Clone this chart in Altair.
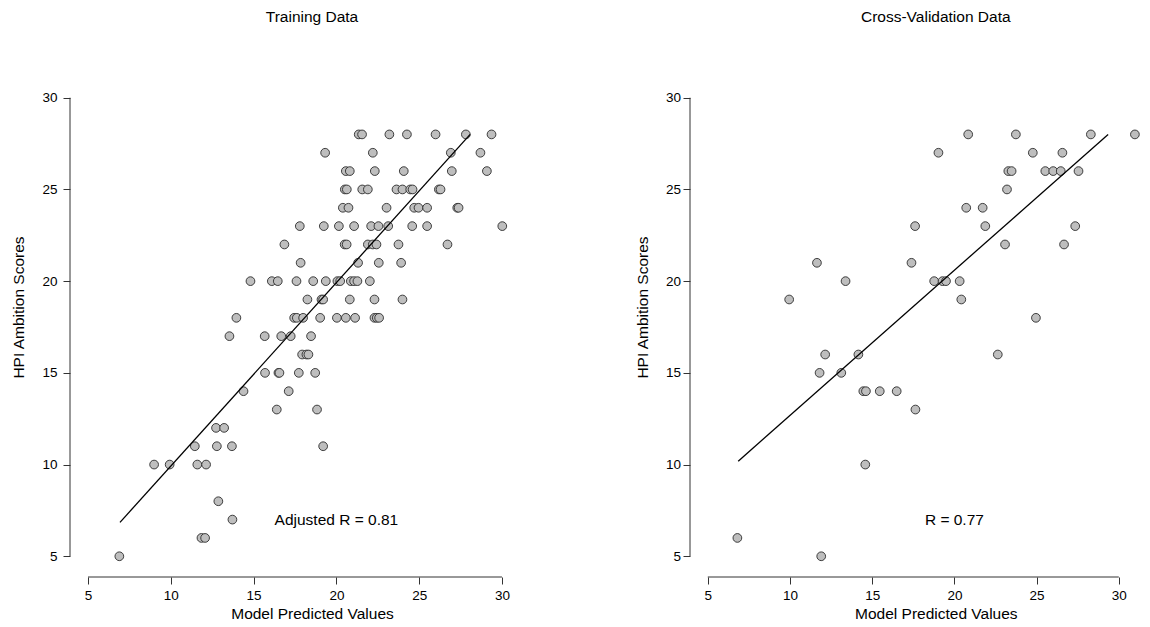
import altair as alt
import pandas as pd

FONT = "Liberation Sans"

# ---- Training data (model predicted value, HPI ambition score) ----
train_pred = [
    21.35, 21.55, 23.2, 24.26, 25.99, 27.82, 29.37,
    19.32, 22.2, 26.91, 28.7,
    20.57, 20.81, 22.32, 24.07, 26.97, 29.09,
    20.51, 20.63, 21.56, 21.9, 23.63, 23.99, 24.46, 24.6, 26.19, 26.29,
    20.39, 20.73, 23.03, 24.7, 24.96, 25.48, 27.3, 27.38,
    17.79, 19.24, 20.15, 21.07, 22.1, 22.54, 23.13, 24.58, 25.48, 30.02,
    16.86, 20.5, 20.62, 21.9, 22.2, 22.42, 23.75, 26.71,
    17.84, 21.31, 22.56, 23.91,
    14.81, 16.1, 16.46, 17.59, 18.6, 19.36, 20.06, 20.23, 20.87, 21.07, 21.27, 22.02,
    18.25, 19.1, 19.2, 20.81, 22.3, 23.99,
    13.96, 17.45, 17.61, 17.99, 19.02, 20.03, 20.57, 21.13, 22.3, 22.44, 22.58,
    13.54, 15.67, 16.67, 17.24, 18.47,
    17.93, 18.19, 18.31,
    15.69, 16.5, 16.56, 17.73, 18.72,
    14.39, 17.12,
    16.4, 18.83,
    12.73, 13.22,
    11.45, 12.78, 13.69, 19.2,
    8.99, 9.93, 11.6, 12.13,
    12.87,
    13.72,
    11.85, 12.07,
    6.89,
]
train_score = (
    [28] * 7 + [27] * 4 + [26] * 6 + [25] * 10 + [24] * 8 + [23] * 10
    + [22] * 8 + [21] * 4 + [20] * 12 + [19] * 6 + [18] * 11 + [17] * 5
    + [16] * 3 + [15] * 5 + [14] * 2 + [13] * 2 + [12] * 2 + [11] * 4
    + [10] * 4 + [8] * 1 + [7] * 1 + [6] * 2 + [5] * 1
)

# ---- Cross-validation data ----
cv_pred = [
    20.84, 23.74, 28.3, 30.98,
    19.03, 24.77, 26.57,
    23.28, 23.48, 25.53, 26.01, 26.47, 27.55,
    23.2,
    20.72, 21.72,
    17.61, 21.88, 27.35,
    23.08, 26.67,
    11.64, 17.39,
    13.38, 18.77, 19.28, 19.49, 20.32,
    9.95, 20.42,
    24.96,
    12.14, 14.16, 22.64,
    11.8, 13.12,
    14.46, 14.62, 15.46, 16.49,
    17.63,
    14.58,
    6.8,
    11.9,
]
cv_score = (
    [28] * 4 + [27] * 3 + [26] * 6 + [25] * 1 + [24] * 2 + [23] * 3
    + [22] * 2 + [21] * 2 + [20] * 5 + [19] * 2 + [18] * 1 + [16] * 3
    + [15] * 2 + [14] * 4 + [13] * 1 + [10] * 1 + [6] * 1 + [5] * 1
)

# fitted lines (end points)
train_fit_pred = [6.93, 28.08]
train_fit_score = [6.85, 28.0]
cv_fit_pred = [6.85, 29.35]
cv_fit_score = [10.18, 28.0]

axis_ticks = [5, 10, 15, 20, 25, 30]
panel_titles = ["Training Data", "Cross-Validation Data"]
stat_labels = ["Adjusted R = 0.81", "R = 0.77"]
stat_pred = [20, 20]
stat_score = [7, 7]

Y_DOMAIN = [3.87, 31.13]
HEIGHT = 500


def panel(pred, score, fit_x, fit_y, title, label, lx, ly, xdom, width,
          title_dx, xtitle_x, ytitle_x, ylabel_pad):
    xs = alt.Scale(domain=xdom, nice=False, zero=False)
    ys = alt.Scale(domain=Y_DOMAIN, nice=False, zero=False)
    common = dict(
        values=axis_ticks, domain=False, grid=False, tickSize=7, tickColor="#333333",
        tickWidth=1, labelFont=FONT, labelFontSize=13.5, labelColor="black",
        labelFlush=False, titleFont=FONT, titleFontSize=15.5, titleFontWeight="normal",
        titleColor="black",
    )
    xaxis = alt.Axis(title="Model Predicted Values", labelPadding=4, titleX=xtitle_x,
                     titleY=41.5, titleBaseline="alphabetic", titleAlign="center", **common)
    yaxis = alt.Axis(title="HPI Ambition Scores", labelPadding=ylabel_pad, titleX=ytitle_x,
                     titleY=230, titleAngle=270, titleBaseline="alphabetic",
                     titleAlign="center", **common)

    X = alt.X("pred:Q", scale=xs, axis=xaxis)
    Y = alt.Y("score:Q", scale=ys, axis=yaxis)

    pts = pd.DataFrame({"pred": pred, "score": score})
    fit = pd.DataFrame({"pred": fit_x, "score": fit_y})
    txt = pd.DataFrame({"pred": [lx], "score": [ly], "t": [label]})
    xline = pd.DataFrame({"pred": [axis_ticks[0]], "pred2": [axis_ticks[-1]], "score": [Y_DOMAIN[0]]})
    yline = pd.DataFrame({"pred": [xdom[0]], "score": [axis_ticks[0]], "score2": [axis_ticks[-1]]})

    points = alt.Chart(pts).mark_circle(
        size=76, color="#BEBEBE", opacity=1, stroke="#2b2b2b", strokeWidth=0.9
    ).encode(x=X, y=Y)
    line = alt.Chart(fit).mark_line(color="black", strokeWidth=1.3).encode(x=X, y=Y)
    text = alt.Chart(txt).mark_text(
        font=FONT, fontSize=15.5, color="black", align="center", baseline="middle"
    ).encode(x=X, y=Y, text="t:N")
    xl = alt.Chart(xline).mark_rule(color="#333333", strokeWidth=1).encode(x=X, x2="pred2:Q", y=Y)
    yl = alt.Chart(yline).mark_rule(color="#333333", strokeWidth=1).encode(x=X, y=Y, y2="score2:Q")
    return alt.layer(points, line, xl, yl, text).properties(
        width=width, height=HEIGHT,
        title=alt.TitleParams(text=title, font=FONT, fontSize=15.5, fontWeight="normal",
                              color="black", anchor="middle", dx=title_dx, offset=39.8,
                              baseline="alphabetic"),
    )


left = panel(train_pred, train_score, train_fit_pred, train_fit_score,
             panel_titles[0], stat_labels[0], stat_pred[0], stat_score[0],
             [3.91, 31.09], 450, 17, 242, -47, 6)
right = panel(cv_pred, cv_score, cv_fit_pred, cv_fit_score,
              panel_titles[1], stat_labels[1], stat_pred[1], stat_score[1],
              [3.918, 31.29], 450, 20.8, 245.8, -42.2, 2.5)

chart = alt.hconcat(left, right, spacing=115).properties(
    padding={"left": 3, "top": 1, "right": 0, "bottom": 0},
    background="white",
).configure_view(stroke=None)

chart.save("out.html", embed_options={"renderer": "svg", "actions": False})
